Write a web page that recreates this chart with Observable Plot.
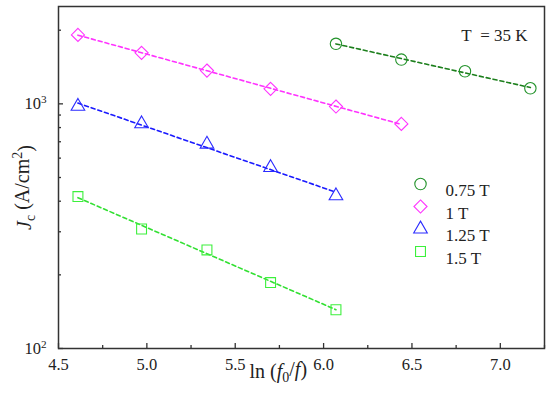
<!DOCTYPE html>
<html><head><meta charset="utf-8">
<script src="https://cdn.jsdelivr.net/npm/d3@7"></script>
<script src="https://cdn.jsdelivr.net/npm/@observablehq/plot@0.6"></script>
<style>
body{margin:0;background:#fff}
#chart{width:550px;height:399px}
</style>
</head><body><div id="chart"></div>
<script>
// ---- data ----
const seriesNames = ["0.75 T", "1 T", "1.25 T", "1.5 T"];
const x075 = [6.07, 6.44, 6.80, 7.17];
const y075 = [1760, 1517, 1359, 1158];
const x100 = [4.61, 4.97, 5.34, 5.70, 6.07, 6.44];
const y100 = [1914, 1616, 1368, 1152, 975, 828];
const x125 = [4.61, 4.97, 5.34, 5.70, 6.07];
const y125 = [977, 829, 684, 549, 421];
const x150 = [4.61, 4.97, 5.34, 5.70, 6.07];
const y150 = [418, 308, 253, 186, 144];
const xMajorTicks = [4.5, 5.0, 5.5, 6.0, 6.5, 7.0];
const xMinorTicks = [4.75, 5.25, 5.75, 6.25, 6.75, 7.25];
const yMajorTicks = [100, 1000];
const yMinorTicks = [200, 300, 400, 500, 600, 700, 800, 900, 2000];
const tempLabel = "T\u00a0 = 35 K";
const xTitle = "ln (f0/f)";
const yTitle = "Jc (A/cm2)";

// ---- styling per series ----
const styles = [
  {symbol: "circle", color: "#22922a", line: "#1c7f1c", r: 5.7},
  {symbol: "diamond2", color: "#ff33ff", line: "#ff33ff", r: 5.9},
  {symbol: "triangle2", color: "#2b2bff", line: "#1a1aff", r: 6.5},
  {symbol: "square2", color: "#3cf03c", line: "#33e033", r: 6.3}
];
const xs = [x075, x100, x125, x150];
const ys = [y075, y100, y125, y150];

const series = seriesNames.map((name, i) => ({
  name, ...styles[i],
  pts: xs[i].map((x, j) => ({x, y: ys[i][j]}))
}));

// least-squares fit of log10(y) vs x
function fit(pts) {
  const mx = d3.mean(pts, d => d.x), my = d3.mean(pts, d => Math.log10(d.y));
  let sxy = 0, sxx = 0;
  for (const d of pts) { sxy += (d.x - mx) * (Math.log10(d.y) - my); sxx += (d.x - mx) ** 2; }
  const b = sxy / sxx, a = my - b * mx;
  const [x0, x1] = d3.extent(pts, d => d.x);
  return [x0, x1].map(x => ({x, y: Math.pow(10, a + b * x)}));
}

const font = "'Liberation Serif', 'Times New Roman', serif";
const marks = [];
for (const s of series) {
  marks.push(Plot.line(fit(s.pts), {x: "x", y: "y", stroke: s.line, strokeWidth: 1.6, strokeDasharray: "4,3"}));
}
for (const s of series) {
  marks.push(Plot.dot(s.pts, {x: "x", y: "y", symbol: s.symbol, r: s.r, stroke: s.color, fill: "none", strokeWidth: 1.1}));
}
// legend
series.forEach((s, i) => {
  marks.push(Plot.dot([0], {frameAnchor: "top-left", dx: 362, dy: 177.5 + i * 22.5, symbol: s.symbol, r: s.r, stroke: s.color, fill: "none", strokeWidth: 1.1}));
  marks.push(Plot.text([s.name], {frameAnchor: "top-left", dx: 387, dy: 177.5 + i * 22.5, text: d => d, textAnchor: "start", fontSize: 17, fill: "#222"}));
});
marks.push(Plot.text([tempLabel], {frameAnchor: "top-right", dx: -17, dy: 22, text: d => d, textAnchor: "end", fontSize: 17, fill: "#222"}));

// axes (inward ticks)
marks.push(Plot.axisX({ticks: xMajorTicks, tickSize: -5, tickPadding: 15, tickFormat: d => d.toFixed(1), label: null, fontSize: 16.5, stroke: "#333", strokeWidth: 1.3, fill: "#222"}));
marks.push(Plot.axisX({ticks: xMinorTicks, tickSize: -3, tickPadding: 0, tickFormat: () => "", label: null, stroke: "#333", strokeWidth: 1.3}));
marks.push(Plot.axisY({ticks: yMajorTicks, tickSize: -5, tickPadding: 17, tickFormat: d => "10^" + Math.round(Math.log10(d)), label: null, fontSize: 16.5, stroke: "#333", strokeWidth: 1.3, fill: "#222"}));
marks.push(Plot.axisY({ticks: yMinorTicks, tickSize: -3, tickPadding: 0, tickFormat: () => "", label: null, stroke: "#333", strokeWidth: 1.3}));
marks.push(Plot.frame({stroke: "#333", strokeWidth: 1.5}));
// axis titles
marks.push(Plot.text([xTitle], {frameAnchor: "bottom-left", dx: 191, dy: 29, text: d => d, textAnchor: "start", fontSize: 20, fill: "#222"}));
marks.push(Plot.text([yTitle], {frameAnchor: "left", dx: -34, dy: 10, text: d => d, rotate: -90, textAnchor: "middle", fontSize: 20, fill: "#222"}));

const chart = Plot.plot({
  width: 550, height: 399,
  marginLeft: 58, marginRight: 6, marginTop: 6, marginBottom: 51,
  style: {fontFamily: font, fontSize: "16px", background: "#fff", color: "#222", overflow: "visible"},
  x: {domain: [4.5, 7.25]},
  y: {type: "log", domain: [100, 2500]},
  marks
});
document.getElementById("chart").append(chart);

// rich text formatting
const svg = d3.select(chart);
const byText = s => svg.selectAll("text").filter(function() { return this.textContent === s; });
svg.selectAll("text").filter(function() { return this.textContent.startsWith("10^"); }).each(function() {
  const t = this.textContent;
  const el = d3.select(this);
  el.text("");
  el.append("tspan").text("10");
  el.append("tspan").attr("dy", "-0.55em").attr("font-size", "0.68em").text(t.slice(3));
});
byText(xTitle).each(function() {
  const el = d3.select(this); el.text("");
  el.append("tspan").text("ln (");
  el.append("tspan").attr("font-style", "italic").text("f");
  el.append("tspan").attr("dy", "0.3em").attr("font-size", "0.7em").text("0");
  el.append("tspan").attr("dy", "-0.3em").text("/");
  el.append("tspan").attr("font-style", "italic").text("f");
  el.append("tspan").text(")");
});
byText(yTitle).each(function() {
  const el = d3.select(this); el.text("");
  el.append("tspan").attr("font-style", "italic").text("J");
  el.append("tspan").attr("dy", "0.3em").attr("font-size", "0.7em").text("c");
  el.append("tspan").attr("dy", "-0.3em").text(" (A/cm");
  el.append("tspan").attr("dy", "-0.5em").attr("font-size", "0.7em").text("2");
  el.append("tspan").attr("dy", "0.5em").text(")");
});
</script>
</body></html>
